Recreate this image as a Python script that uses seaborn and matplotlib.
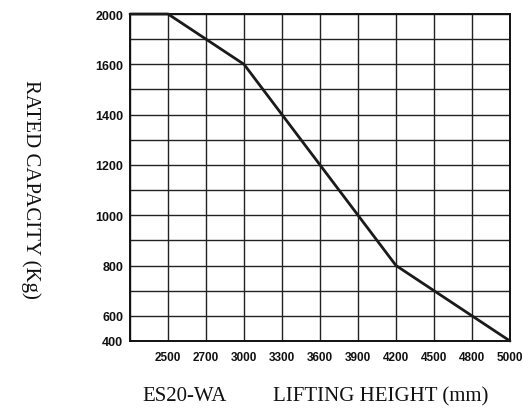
import numpy as np
import pandas as pd
import matplotlib
matplotlib.use("Agg")
import matplotlib.pyplot as plt
import seaborn as sns

# ---------------- DATA ----------------
# lifting height (mm) vs rated capacity (kg)
heights = [2300, 2500, 3000, 4200, 5000]
capacities = [2000, 2000, 1600, 800, 400]

# axis scales of the chart are not linear: ticks sit on equally spaced grid lines
x_ticks = [2500, 2700, 3000, 3300, 3600, 3900, 4200, 4500, 4800, 5000]
x_edge = 2300  # unlabeled left edge of the grid
y_ticks = [400, 600, 800, 1000, 1200, 1400, 1600, 2000]
y_grid_steps = [0, 1, 3, 5, 7, 9, 11, 13]  # grid row of each y tick label

# ---------------- SCALE HELPERS ----------------
x_vals = [x_edge] + x_ticks
x_pos = list(range(len(x_vals)))


def to_x(v):
    return np.interp(v, x_vals, x_pos)


def to_y(v):
    return np.interp(v, y_ticks, y_grid_steps)


df = pd.DataFrame({"x": to_x(heights), "y": to_y(capacities)})

# ---------------- PLOT ----------------
sns.set_theme(style="white")
plt.rcParams["font.family"] = ["Liberation Sans Narrow", "Liberation Sans", "DejaVu Sans"]

fig = plt.figure(figsize=(5.23, 4.14), dpi=100)
ax = fig.add_axes([130 / 523, 1 - 342 / 414, 380 / 523, 327 / 414])

sns.lineplot(data=df, x="x", y="y", ax=ax, color="#1a1a1a", linewidth=2.0)
for ln in ax.get_lines():
    ln.set_clip_on(False)
    ln.set_zorder(5)

ax.set_xlim(0, len(x_vals) - 1)
ax.set_ylim(0, max(y_grid_steps))

ax.set_xticks(np.arange(0, len(x_vals)))
ax.set_xticklabels([""] + [str(t) for t in x_ticks], fontsize=8.5, fontweight="bold")
ax.set_yticks(np.arange(0, max(y_grid_steps) + 1))
ylabels = [""] * (max(y_grid_steps) + 1)
for t, s in zip(y_ticks, y_grid_steps):
    ylabels[s] = str(t)
ax.set_yticklabels(ylabels, fontsize=9, fontweight="bold")

ax.grid(True, color="#222222", linewidth=1.0)
ax.tick_params(length=0, colors="#111111")
ax.tick_params(axis="x", pad=7)
ax.tick_params(axis="y", pad=5)
for sp in ax.spines.values():
    sp.set_color("#111111")
    sp.set_linewidth(1.4)
ax.set_xlabel("")
ax.set_ylabel("")

serif = ["Liberation Serif", "DejaVu Serif"]
fig.text(31 / 523, 1 - 189 / 414, "RATED CAPACITY (Kg)", rotation=270,
         ha="center", va="center", fontsize=15, family=serif, color="#111111")
fig.text(185 / 523, 1 - 397 / 414, "ES20-WA", ha="center", va="center",
         fontsize=15, family=serif, color="#111111")
fig.text(381 / 523, 1 - 397 / 414, "LIFTING HEIGHT (mm)", ha="center", va="center",
         fontsize=15, family=serif, color="#111111")

fig.savefig("out.png", dpi=100)
